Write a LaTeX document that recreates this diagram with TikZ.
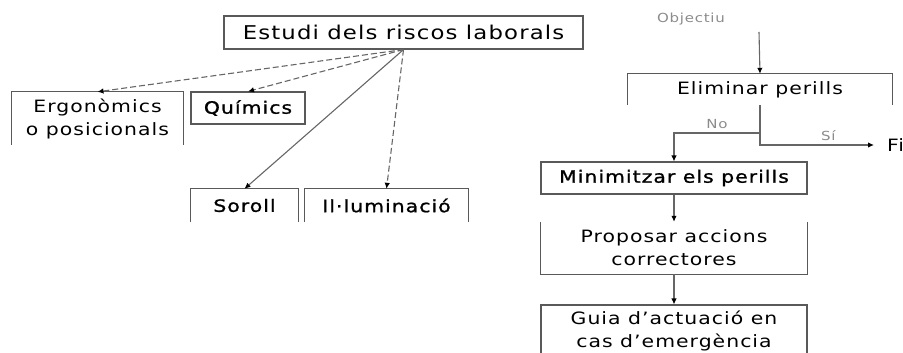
\documentclass[tikz,border=0pt]{standalone}
\usepackage{fontspec}
\setmainfont[FakeStretch=1.2,LetterSpace=6]{DejaVu Sans}
\newfontfamily\heavyfont[FakeStretch=1.2,LetterSpace=6,FakeBold=1.2]{DejaVu Sans}
\usetikzlibrary{arrows.meta}

\begin{document}
\begin{tikzpicture}[
  x=1pt, y=-1pt,
  >=Latex,
  box/.style={draw=black!65, line width=1.1pt, inner sep=0pt, align=center,
    font=\fontsize{17}{23}\selectfont},
  openbox/.style={inner sep=0pt, align=center, font=\fontsize{17}{23}\selectfont},
  heavy/.style={font=\fontsize{17}{23}\heavyfont},
  edge/.style={draw=black!65, line width=1.1pt},
  arr/.style={-{Latex[length=6pt,width=5.5pt,color=black]}, draw=black!60, line width=1.1pt},
  dasharr/.style={arr, dash pattern=on 6pt off 3pt},
  tag/.style={font=\fontsize{12.5}{14}\selectfont, text=black!45}
]

\useasboundingbox (0,0) rectangle (903,353);

% left tree
\node[box, minimum width=359pt, minimum height=33pt, font=\fontsize{19}{23}\selectfont]
  (estudi) at (403.5,32.5) {Estudi dels riscos laborals};
\node[openbox, minimum width=171pt, minimum height=53pt] (ergo) at (97.5,118.5)
  {Ergonòmics\\o posicionals};
\node[box, heavy, minimum width=114pt, minimum height=32pt] (quim) at (248,108) {Químics};
\node[openbox, heavy, minimum width=107pt, minimum height=33pt] (soroll) at (244.5,205.5) {Soroll};
\node[openbox, heavy, minimum width=163pt, minimum height=33pt] (illum) at (386.5,205.5) {Il·luminació};

\draw[edge] (ergo.south west) -- (ergo.north west) -- (ergo.north east) -- (ergo.south east);
\draw[edge] (soroll.south west) -- (soroll.north west) -- (soroll.north east) -- (soroll.south east);
\draw[edge] (illum.south west) -- (illum.north west) -- (illum.north east) -- (illum.south east);

\draw[dasharr] (estudi.south) -- (ergo.north);
\draw[dasharr] (estudi.south) -- (quim.north);
\draw[arr] (estudi.south) -- (soroll.north);
\draw[dasharr] (estudi.south) -- (illum.north);

% right flow
\node[tag] (obj) at (691,19) {Objectiu};
\coordinate (objtop) at (759,32);
\node[openbox, minimum width=264pt, minimum height=31pt] (elim) at (760,89.5) {Eliminar perills};
\node[box, heavy, minimum width=266pt, minimum height=32pt] (minim) at (674,178) {Minimitzar els perills};
\node[openbox, minimum width=266pt, minimum height=52pt] (prop) at (674,248)
  {Proposar accions\\correctores};
\node[box, minimum width=266pt, minimum height=52pt] (guia) at (674,331)
  {Guia d’actuació en\\cas d’emergència};
\node[inner sep=0pt, anchor=west, font=\fontsize{17}{20}\selectfont] (fi) at (887,145) {Fi};

\draw[edge] (elim.south west) -- (elim.north west) -- (elim.north east) -- (elim.south east);
\draw[edge] (prop.north west) -- (prop.south west) -- (prop.south east) -- (prop.north east);

\draw[arr] (objtop) -- (elim.north);
\coordinate (split) at (elim.south |- 0,133);
\draw[arr] (elim.south) |- ([xshift=-13pt]fi.west) node[tag, pos=0.8, above] {Sí};
\draw[arr] (split) -| (minim.north) node[tag, pos=0.25, above] {No};
\draw[arr] (minim) -- (prop);
\draw[arr] (prop) -- (guia);

\end{tikzpicture}
\end{document}
